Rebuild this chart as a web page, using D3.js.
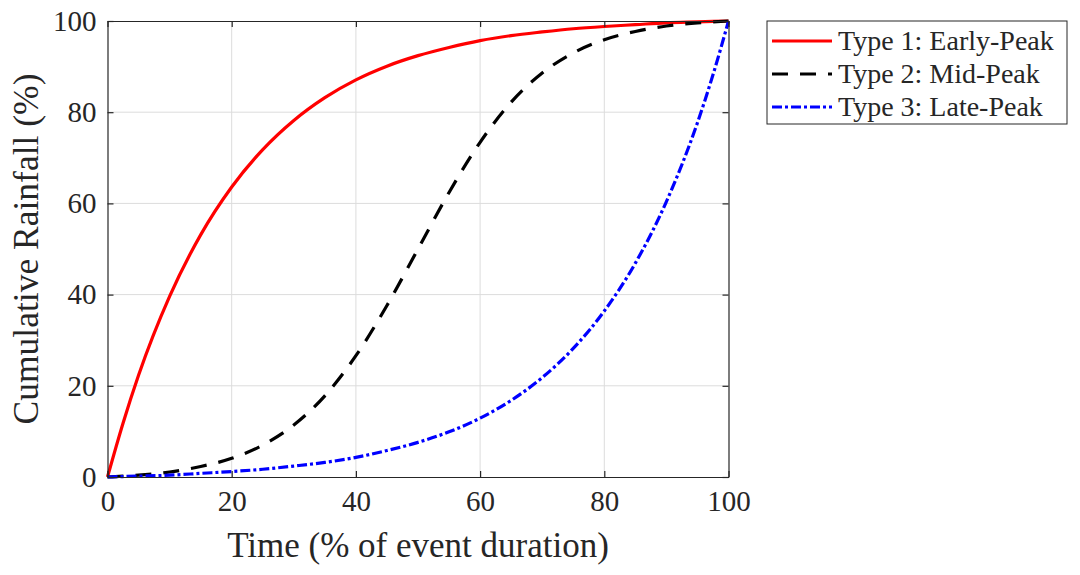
<!DOCTYPE html>
<html>
<head>
<meta charset="utf-8">
<script src="https://cdn.jsdelivr.net/npm/d3@7"></script>
<style>
  body { margin: 0; background: #fff; }
  text { font-family: "Liberation Serif", "Times New Roman", serif; fill: #262626; }
</style>
</head>
<body>
<script>
/* cumulative rainfall curves */
var time  = [0, 2.5, 5, 10, 15, 20, 25, 30, 35, 40, 45, 50, 55, 60, 65, 70, 75, 80, 85, 90, 95, 97.5, 100];
var early = [0, 11.8, 22.3, 39.6, 53.1, 63.6, 71.8, 78.2, 83.2, 87.1, 90.1, 92.4, 94.2, 95.7, 96.8, 97.6, 98.3, 98.8, 99.2, 99.6, 99.8, 99.9, 100];
var mid   = [0, 0.2, 0.4, 1.1, 2.3, 4.1, 7.0, 11.4, 17.8, 26.6, 37.6, 50, 62.4, 73.4, 82.2, 88.6, 93.0, 95.9, 97.7, 98.9, 99.6, 99.8, 100];
var late  = [0, 0.1, 0.2, 0.4, 0.8, 1.2, 1.7, 2.4, 3.2, 4.3, 5.8, 7.6, 9.9, 12.9, 16.8, 21.8, 28.2, 36.4, 46.9, 60.4, 77.7, 88.2, 100];
var seriesNames = ["Type 1: Early-Peak", "Type 2: Mid-Peak", "Type 3: Late-Peak"];
var ticks = [0, 20, 40, 60, 80, 100];

var W = 1080, H = 575;
var m = {left: 107.5, right: 351.5, top: 21, bottom: 98};

var svg = d3.select("body").append("svg")
            .attr("width", W)
            .attr("height", H);

var x = d3.scaleLinear().domain([0, 100]).range([m.left, W - m.right]);
var y = d3.scaleLinear().domain([0, 100]).range([H - m.bottom, m.top]);

/* grid */
var grid = svg.append("g");
grid.selectAll("line.gx").data(ticks.slice(1, -1)).enter().append("line")
    .attr("x1", function(d) { return x(d); }).attr("x2", function(d) { return x(d); })
    .attr("y1", y(0)).attr("y2", y(100))
    .attr("stroke", "#dcdcdc").attr("stroke-width", 1);
grid.selectAll("line.gy").data(ticks.slice(1, -1)).enter().append("line")
    .attr("y1", function(d) { return y(d); }).attr("y2", function(d) { return y(d); })
    .attr("x1", x(0)).attr("x2", x(100))
    .attr("stroke", "#dcdcdc").attr("stroke-width", 1);

/* curves */
var styles = [
  {data: early, color: "#ff0000", dash: null},
  {data: mid,   color: "#000000", dash: "16,12"},
  {data: late,  color: "#0000ff", dash: "10,3,3,3"}
];
var line = d3.line()
             .x(function(d) { return x(d[0]); })
             .y(function(d) { return y(d[1]); })
             .curve(d3.curveMonotoneX);

styles.forEach(function(s) {
  svg.append("path")
     .datum(d3.zip(time, s.data))
     .attr("d", line)
     .attr("fill", "none")
     .attr("stroke", s.color)
     .attr("stroke-width", 3.2)
     .attr("stroke-dasharray", s.dash);
});

/* axes: box with inward ticks */
var ax = svg.append("g").attr("transform", "translate(0," + y(0) + ")")
            .call(d3.axisBottom(x).tickValues(ticks).tickSizeInner(-6).tickSizeOuter(0).tickPadding(13));
var ay = svg.append("g").attr("transform", "translate(" + x(0) + ",0)")
            .call(d3.axisLeft(y).tickValues(ticks).tickSizeInner(-6).tickSizeOuter(0).tickPadding(11));
var axT = svg.append("g").attr("transform", "translate(0," + y(100) + ")")
            .call(d3.axisTop(x).tickValues(ticks).tickSizeInner(-6).tickSizeOuter(0).tickFormat(""));
var ayR = svg.append("g").attr("transform", "translate(" + x(100) + ",0)")
            .call(d3.axisRight(y).tickValues(ticks).tickSizeInner(-6).tickSizeOuter(0).tickFormat(""));
[ax, ay, axT, ayR].forEach(function(a) {
  a.selectAll("path").attr("stroke", "#262626").attr("stroke-width", 1.2);
  a.selectAll("line").attr("stroke", "#262626").attr("stroke-width", 1.2);
  a.selectAll("text").style("font-family", "Liberation Serif, serif").style("font-size", "29px").attr("fill", "#262626");
});

svg.append("text")
   .attr("x", (x(0) + x(100)) / 2).attr("y", 557)
   .attr("text-anchor", "middle")
   .style("font-size", "35px")
   .text("Time (% of event duration)");
svg.append("text")
   .attr("transform", "translate(38," + (y(50)) + ") rotate(-90)")
   .attr("text-anchor", "middle")
   .style("font-size", "35.5px")
   .text("Cumulative Rainfall (%)");

/* legend */
var lg = svg.append("g").attr("transform", "translate(767,21)");
lg.append("rect").attr("width", 300).attr("height", 103)
  .attr("fill", "#fff").attr("stroke", "#262626").attr("stroke-width", 1);
styles.forEach(function(s, i) {
  var yy = 20 + i * 33;
  lg.append("line").attr("x1", 5).attr("x2", 65).attr("y1", yy).attr("y2", yy)
    .attr("stroke", s.color).attr("stroke-width", 3.2).attr("stroke-dasharray", s.dash);
  lg.append("text").attr("x", 71).attr("y", yy + 9)
    .style("font-size", "28px").attr("fill", "#000")
    .text(seriesNames[i]);
});
</script>
</body>
</html>
